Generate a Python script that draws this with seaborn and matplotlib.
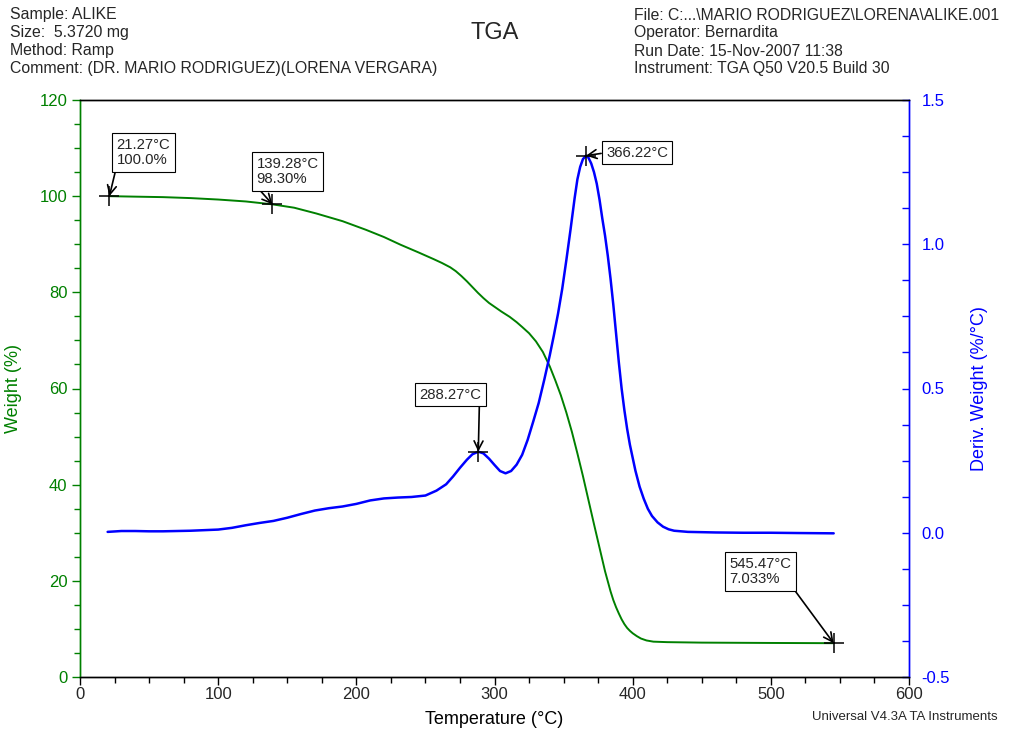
import numpy as np
import pandas as pd
import matplotlib
matplotlib.use("Agg")
import matplotlib.pyplot as plt
from matplotlib.ticker import MultipleLocator, FormatStrFormatter
import seaborn as sns

# ---- TGA weight curve: temperature (°C) vs weight (%) ----
weight_temp = [21.27, 40, 60, 80, 100, 120, 139.28, 155, 171, 190, 207, 220, 232, 245,
               256, 262, 268, 272, 276, 280, 284, 288, 292, 296, 300, 305, 311, 316, 320,
               325, 330, 335, 340, 344, 348, 352, 356, 360, 364, 368, 372, 376, 380, 384,
               386, 388, 390, 392, 394, 396, 398, 400, 403, 406, 410, 415, 425, 450, 500,
               545.47]
weight_pct = [100.0, 99.9, 99.8, 99.6, 99.3, 98.9, 98.30, 97.6, 96.4, 94.8, 93.0, 91.5, 89.9, 88.3,
              86.9, 86.1, 85.2, 84.4, 83.4, 82.3, 81.1, 79.9, 78.8, 77.8, 77.0, 76.0, 74.9, 73.8, 72.8,
              71.5, 69.8, 67.6, 64.6, 61.7, 58.6, 55.0, 51.0, 46.5, 41.8, 36.8, 31.8, 26.9, 22.0, 17.8,
              16.0, 14.5, 13.2, 12.0, 11.0, 10.2, 9.6, 9.1, 8.5, 8.0, 7.6, 7.35, 7.25, 7.15, 7.08,
              7.033]

# ---- Derivative weight curve: temperature (°C) vs d(weight)/dT (%/°C) ----
deriv_temp = [20, 30, 40, 50, 60, 70, 80, 90, 100, 110, 120, 130, 140, 150, 160, 170, 180,
              190, 200, 210, 220, 230, 240, 250, 258, 265, 270, 275, 280, 284, 288.27, 292,
              296, 300, 304, 308, 312, 316, 320, 324, 328, 332, 336, 340, 343, 346, 349,
              352, 355, 358, 360, 362, 364, 366.22, 368, 370, 372, 374, 376, 378, 380, 382,
              384, 386, 388, 390, 392, 394, 396, 398, 400, 402, 405, 408, 411, 414, 418,
              422, 426, 430, 440, 460, 480, 500, 520, 545.5]
deriv_val = [0.003, 0.006, 0.006, 0.005, 0.005, 0.006, 0.007, 0.009, 0.011, 0.017, 0.026,
             0.034, 0.041, 0.052, 0.065, 0.077, 0.085, 0.091, 0.100, 0.112, 0.119, 0.122,
             0.124, 0.129, 0.146, 0.168, 0.195, 0.225, 0.253, 0.272, 0.281, 0.275, 0.257,
             0.235, 0.214, 0.206, 0.214, 0.236, 0.270, 0.322, 0.385, 0.450, 0.530, 0.615,
             0.685, 0.760, 0.845, 0.945, 1.050, 1.160, 1.225, 1.268, 1.295, 1.307, 1.300,
             1.280, 1.250, 1.210, 1.155, 1.090, 1.030, 0.960, 0.880, 0.790, 0.690, 0.590,
             0.500, 0.425, 0.360, 0.305, 0.260, 0.215, 0.160, 0.118, 0.083, 0.058, 0.036,
             0.021, 0.012, 0.007, 0.003, 0.001, 0.000, 0.000, -0.001, -0.002]

# ---- Marked points ----
weight_marks_T = [21.27, 139.28, 545.47]
weight_marks_W = [100.0, 98.30, 7.033]
deriv_marks_T = [288.27, 366.22]
deriv_marks_D = [0.281, 1.307]

header_left = ["Sample: ALIKE", "Size:  5.3720 mg", "Method: Ramp",
               "Comment: (DR. MARIO RODRIGUEZ)(LORENA VERGARA)"]
header_right = ["File: C:...\\MARIO RODRIGUEZ\\LORENA\\ALIKE.001", "Operator: Bernardita",
                "Run Date: 15-Nov-2007 11:38", "Instrument: TGA Q50 V20.5 Build 30"]

GREEN = "#008000"
BLUE = "#0000FF"

sns.set_theme(style="ticks")
plt.rcParams["font.family"] = ["Liberation Sans", "DejaVu Sans"]

W, H = 1009, 731
fig = plt.figure(figsize=(W / 100, H / 100), dpi=100)
ax = fig.add_axes([80 / W, (H - 677) / H, 829 / W, 577 / H])
ax2 = ax.twinx()

wdf = pd.DataFrame({"T": weight_temp, "W": weight_pct})
ddf = pd.DataFrame({"T": deriv_temp, "D": deriv_val})
sns.lineplot(data=wdf, x="T", y="W", ax=ax, color=GREEN, lw=1.4, sort=False, estimator=None)
sns.lineplot(data=ddf, x="T", y="D", ax=ax2, color=BLUE, lw=1.8, sort=False, estimator=None)

ax.plot(weight_marks_T, weight_marks_W, ls="none", marker="+", ms=14, mew=1.1, color="black", zorder=5)
ax2.plot(deriv_marks_T, deriv_marks_D, ls="none", marker="+", ms=14, mew=1.1, color="black", zorder=5)

ax.set_xlim(0, 600)
ax.set_ylim(0, 120)
ax2.set_ylim(-0.5, 1.5)

ax.xaxis.set_major_locator(MultipleLocator(100))
ax.xaxis.set_minor_locator(MultipleLocator(25))
ax.yaxis.set_major_locator(MultipleLocator(20))
ax.yaxis.set_minor_locator(MultipleLocator(5))
ax2.yaxis.set_major_locator(MultipleLocator(0.5))
ax2.yaxis.set_minor_locator(MultipleLocator(0.125))
ax2.yaxis.set_major_formatter(FormatStrFormatter("%.1f"))

for a in (ax, ax2):
    for s in a.spines.values():
        s.set_visible(True)
        s.set_linewidth(1.0)
        s.set_color("black")
ax.spines["left"].set_color(GREEN)
ax2.spines["left"].set_color(GREEN)
ax2.spines["right"].set_color(BLUE)
ax.spines["right"].set_color(BLUE)

ax.tick_params(axis="x", which="major", direction="out", length=6, width=1, color="black",
               labelsize=12, pad=1, top=False)
ax.tick_params(axis="x", which="minor", direction="out", length=4, width=1, color="black", top=False)
ax.tick_params(axis="y", which="major", direction="out", length=6, width=1, color=GREEN,
               labelcolor=GREEN, labelsize=12, pad=3)
ax.tick_params(axis="y", which="minor", direction="out", length=4, width=1, color=GREEN)
ax2.tick_params(axis="y", which="both", direction="in", length=5, width=1, color=BLUE,
                labelcolor=BLUE, labelsize=12, pad=9)

ax.set_xlabel("Temperature (°C)", fontsize=13, color="black", labelpad=7)
ax.set_ylabel("Weight (%)", fontsize=13, color=GREEN, labelpad=13)
ax2.set_ylabel("Deriv. Weight (%/°C)", fontsize=13, color=BLUE, labelpad=15)
ax.grid(False)
ax2.grid(False)

# annotation boxes with arrows
box = dict(boxstyle="square,pad=0.3", fc="white", ec="black", lw=0.8)


def mark(a, text, xy, off, relpos, va="bottom"):
    a.annotate(text, xy=xy, xytext=off, textcoords="offset pixels", ha="left", va=va,
               fontsize=10.7, linespacing=1.15, bbox=box, zorder=6,
               arrowprops=dict(arrowstyle="->", color="black", lw=1.2, relpos=relpos,
                               shrinkA=0, shrinkB=0, mutation_scale=16))


mark(ax, f"{weight_marks_T[0]:.2f}°C\n{weight_marks_W[0]:.1f}%",
     (weight_marks_T[0], weight_marks_W[0]), (7, 29), (0, 0))
mark(ax, f"{weight_marks_T[1]:.2f}°C\n{weight_marks_W[1]:.2f}%",
     (weight_marks_T[1], weight_marks_W[1]), (-16, 18), (0, 0))
mark(ax, f"{weight_marks_T[2]:.2f}°C\n{weight_marks_W[2]:.3f}%",
     (weight_marks_T[2], weight_marks_W[2]), (-104, 57), (1, 0))
mark(ax2, f"{deriv_marks_T[0]:.2f}°C", (deriv_marks_T[0], deriv_marks_D[0]), (-59, 50), (0.97, 0))
mark(ax2, f"{deriv_marks_T[1]:.2f}°C", (deriv_marks_T[1], deriv_marks_D[1]), (20, 3), (0, 0.5), va="center")

# header block
for i, line in enumerate(header_left):
    fig.text(10 / W, 1 - (15 + 18 * i) / H, line, fontsize=11.4, ha="left", va="center")
for i, line in enumerate(header_right):
    fig.text(634 / W, 1 - (15 + 18 * i) / H, line, fontsize=11.3, ha="left", va="center")
fig.text(495 / W, 1 - 33 / H, "TGA", fontsize=17, ha="center", va="center")
fig.text(998 / W, 1 - 717 / H, "Universal V4.3A TA Instruments", fontsize=9.5, ha="right", va="center")

fig.savefig("out.png", dpi=100, facecolor="white")
